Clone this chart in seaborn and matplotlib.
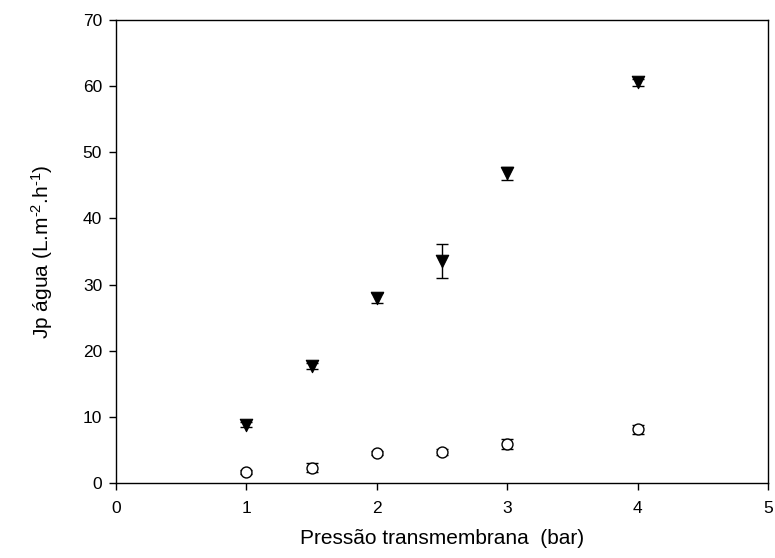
import matplotlib
matplotlib.use("Agg")
import matplotlib.pyplot as plt
import seaborn as sns
import pandas as pd

# Water permeate flux vs transmembrane pressure, two membranes
pressure_a = [1.0, 1.5, 2.0, 2.5, 3.0, 4.0]
flux_a = [8.8, 17.7, 28.0, 33.6, 46.8, 60.6]
err_a = [0.4, 0.4, 0.8, 2.6, 1.0, 0.5]

pressure_b = [1.0, 1.5, 2.0, 2.5, 3.0, 4.0]
flux_b = [1.7, 2.3, 4.5, 4.7, 5.85, 8.1]
err_b = [0.3, 0.7, 0.3, 0.4, 0.75, 0.7]

x_ticks = [0, 1, 2, 3, 4, 5]
y_ticks = [0, 10, 20, 30, 40, 50, 60, 70]

sns.set_theme(style="ticks")
plt.rcParams["font.family"] = ["Liberation Sans", "DejaVu Sans"]
plt.rcParams["mathtext.fontset"] = "custom"
plt.rcParams["mathtext.rm"] = "Liberation Sans"
plt.rcParams["mathtext.it"] = "Liberation Sans"

df_a = pd.DataFrame({"p": pressure_a, "j": flux_a})
df_b = pd.DataFrame({"p": pressure_b, "j": flux_b})

fig = plt.figure(figsize=(7.75, 5.58), dpi=100)
ax = fig.add_axes([0.1497, 0.1344, 0.8413, 0.8297])

ax.errorbar(pressure_a, flux_a, yerr=err_a, fmt="none", ecolor="black",
            elinewidth=1.0, capsize=4.5, capthick=1.0, zorder=2)
ax.errorbar(pressure_b, flux_b, yerr=err_b, fmt="none", ecolor="black",
            elinewidth=1.0, capsize=4.5, capthick=1.0, zorder=2)

sns.scatterplot(data=df_a, x="p", y="j", marker="v", s=80, color="black",
                edgecolor="black", linewidth=0.8, ax=ax, zorder=3)
sns.scatterplot(data=df_b, x="p", y="j", marker="o", s=62, color="white",
                edgecolor="black", linewidth=1.0, ax=ax, zorder=3)

ax.set_xlim(0, 5)
ax.set_ylim(0, 70)
ax.set_xticks(x_ticks)
ax.set_yticks(y_ticks)
ax.set_xticklabels([str(v) for v in x_ticks])
ax.set_yticklabels([str(v) for v in y_ticks])

for side in ["top", "right", "left", "bottom"]:
    ax.spines[side].set_visible(True)
    ax.spines[side].set_color("black")
    ax.spines[side].set_linewidth(1.0)

ax.tick_params(axis="both", direction="out", length=5, width=1.0,
               colors="black", labelsize=12.5)
ax.tick_params(axis="x", pad=8)
ax.tick_params(axis="y", pad=5)

ax.set_xlabel("Pressão transmembrana  (bar)", fontsize=15, labelpad=9,
              color="black")
ax.set_ylabel(r"Jp água (L.m$^{\text{-2}}$.h$^{\text{-1}}$)", fontsize=15,
              labelpad=20, color="black")

fig.savefig("out.png", dpi=100, facecolor="white")
